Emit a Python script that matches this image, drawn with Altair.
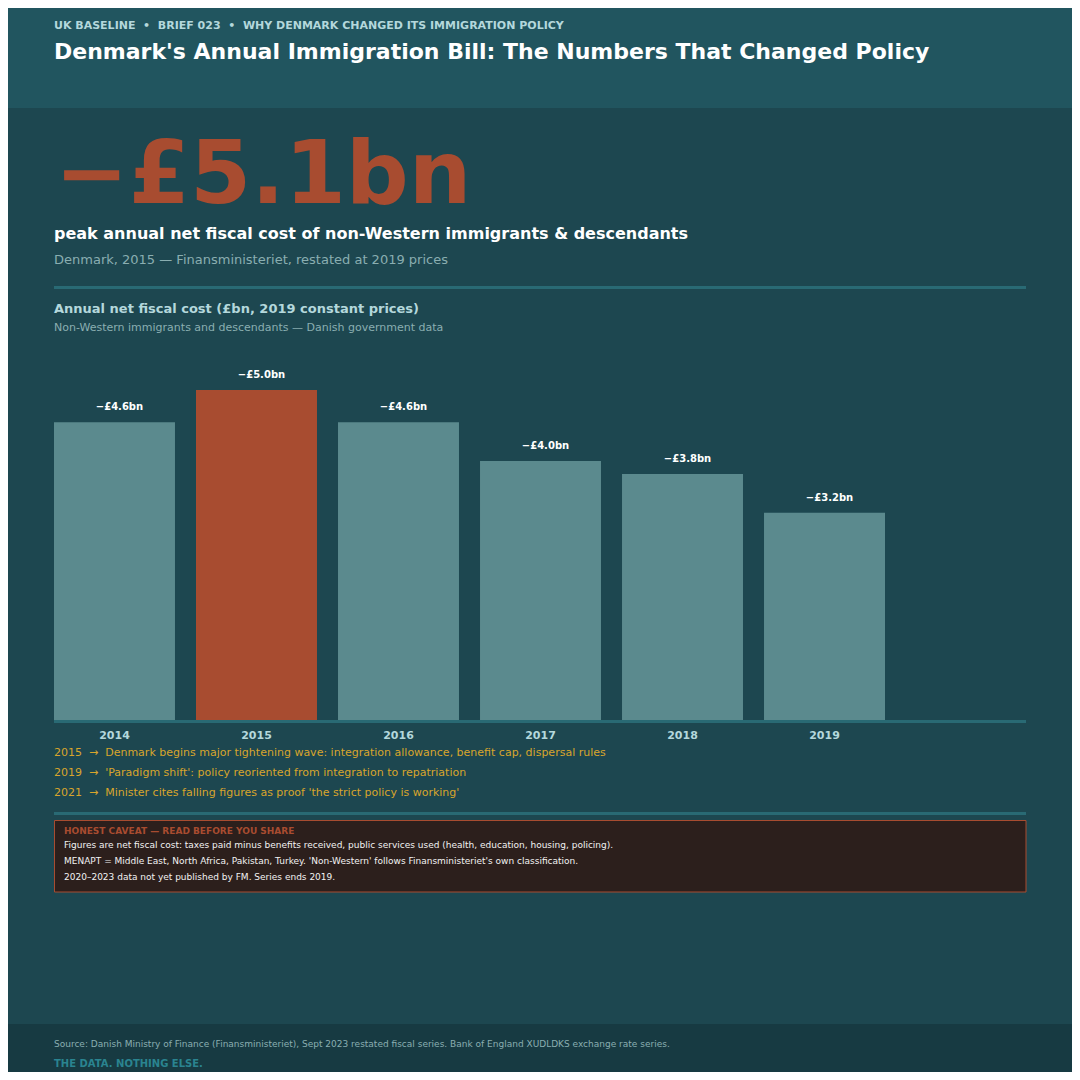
"""
Denmark net fiscal cost brief: annual bill for non-Western immigrants, 2014-2019.
"""

import pandas as pd
import altair as alt

FONT = "DejaVu Sans"

# Data
years = ["2014", "2015", "2016", "2017", "2018", "2019"]
net_cost_bn = [4.6, 5.1, 4.6, 4.0, 3.8, 3.2]
bar_labels = ["−£4.6bn", "−£5.0bn", "−£4.6bn", "−£4.0bn", "−£3.8bn", "−£3.2bn"]
peak_year = "2015"

milestone_years = ["2015", "2019", "2021"]
milestone_notes = [
    "Denmark begins major tightening wave: integration allowance, benefit cap, dispersal rules",
    "'Paradigm shift': policy reoriented from integration to repatriation",
    "Minister cites falling figures as proof 'the strict policy is working'",
]

caveat_lines = [
    "Figures are net fiscal cost: taxes paid minus benefits received, public services used (health, education, housing, policing).",
    "MENAPT = Middle East, North Africa, Pakistan, Turkey. 'Non-Western' follows Finansministeriet's own classification.",
    "2020–2023 data not yet published by FM. Series ends 2019.",
]

# Palette
BG = "#1d4750"
HEADER_BG = "#21555f"
FOOTER_BG = "#173a42"
RULE = "#296a74"
BAR = "#5b8a8e"
RUST = "#a84c30"
PALE = "#b4d8dc"
MUTED = "#8aaeb1"
GOLD = "#d8a52c"
CAVEAT_BG = "#2c1f1c"

NBSP = "\u00a0"


def text(s, x, y, size, color, bold=False):
    return alt.Chart(pd.DataFrame({"t": [s]})).mark_text(
        align="left", baseline="alphabetic", font=FONT, fontSize=size,
        fontWeight="bold" if bold else "normal", color=color
    ).encode(x=alt.value(x), y=alt.value(y), text="t:N")


def panel(x, x2, y, y2, fill, stroke=None):
    extra = {"stroke": stroke, "strokeWidth": 1} if stroke else {}
    return alt.Chart(pd.DataFrame({"k": [0]})).mark_rect(fill=fill, **extra).encode(
        x=alt.value(x), x2=alt.value(x2), y=alt.value(y), y2=alt.value(y2)
    )


bars_df = pd.DataFrame({"year": years, "cost": net_cost_bn, "label": bar_labels})

x_scale = alt.Scale(domain=years, range=[46, 877], paddingInner=0.148, paddingOuter=0)
y_scale = alt.Scale(domain=[0, 5.5], range=[712, 356], nice=False, zero=True)

base = alt.Chart(bars_df)

bars = base.mark_bar().encode(
    x=alt.X("year:O", scale=x_scale, axis=None),
    y=alt.Y("cost:Q", scale=y_scale, axis=None),
    color=alt.condition(
        alt.datum.year == peak_year, alt.value(RUST), alt.value(BAR)
    ),
)

value_labels = base.mark_text(
    baseline="alphabetic", dx=5, dy=-12, font=FONT, fontSize=10, fontWeight="bold", color="white"
).encode(
    x=alt.X("year:O", scale=x_scale, axis=None),
    y=alt.Y("cost:Q", scale=y_scale, axis=None),
    text="label:N",
)

year_labels = base.mark_text(
    baseline="alphabetic", font=FONT, fontSize=11, fontWeight="bold", color=PALE
).encode(
    x=alt.X("year:O", scale=x_scale, axis=None),
    y=alt.value(731),
    text="year:N",
)

sep = NBSP * 2 + "•" + NBSP * 2
kicker = sep.join(["UK BASELINE", "BRIEF 023", "WHY DENMARK CHANGED ITS IMMIGRATION POLICY"])
arrow = NBSP * 2 + "→" + NBSP * 2

layers = [
    panel(0, 1064, 0, 100, HEADER_BG),
    text(kicker, 46, 21, 11, PALE, bold=True),
    text("Denmark's Annual Immigration Bill: The Numbers That Changed Policy", 46, 51, 22, "white", bold=True),
    text("−£5.1bn", 47, 195, 88, RUST, bold=True),
    text("peak annual net fiscal cost of non-Western immigrants & descendants", 46, 231, 16, "white", bold=True),
    text("Denmark, 2015 — Finansministeriet, restated at 2019 prices", 46, 256, 13, MUTED),
    panel(46, 1018, 278, 281, RULE),
    text("Annual net fiscal cost (£bn, 2019 constant prices)", 46, 305, 13, PALE, bold=True),
    text("Non-Western immigrants and descendants — Danish government data", 46, 323, 11, MUTED),
    bars,
    value_labels,
    panel(46, 1018, 712, 715, RULE),
    year_labels,
]

for i, (yr, note) in enumerate(zip(milestone_years, milestone_notes)):
    layers.append(text(yr + arrow + note, 46, 748 + 20 * i, 11, GOLD))

layers += [
    panel(46, 1018, 804, 807, RULE),
    panel(46.5, 1018, 812.5, 884, CAVEAT_BG, stroke=RUST),
    text("HONEST CAVEAT — READ BEFORE YOU SHARE", 56, 826, 9, RUST, bold=True),
]
for i, line in enumerate(caveat_lines):
    layers.append(text(line, 56, 840 + 16 * i, 9, "#f2f2f2"))

layers += [
    panel(0, 1064, 1016, 1064, FOOTER_BG),
    text("Source: Danish Ministry of Finance (Finansministeriet), Sept 2023 restated fiscal series. "
         "Bank of England XUDLDKS exchange rate series.", 46, 1039, 9, MUTED),
    text("THE DATA. NOTHING ELSE.", 46, 1059, 10, "#2a8490", bold=True),
]

chart = alt.layer(*layers).properties(
    width=1064,
    height=1064,
    padding=0,
    background=BG,
    autosize=alt.AutoSizeParams(type="none"),
).configure_view(strokeWidth=0)

chart.save("out.html", embed_options={"renderer": "svg", "actions": False})
